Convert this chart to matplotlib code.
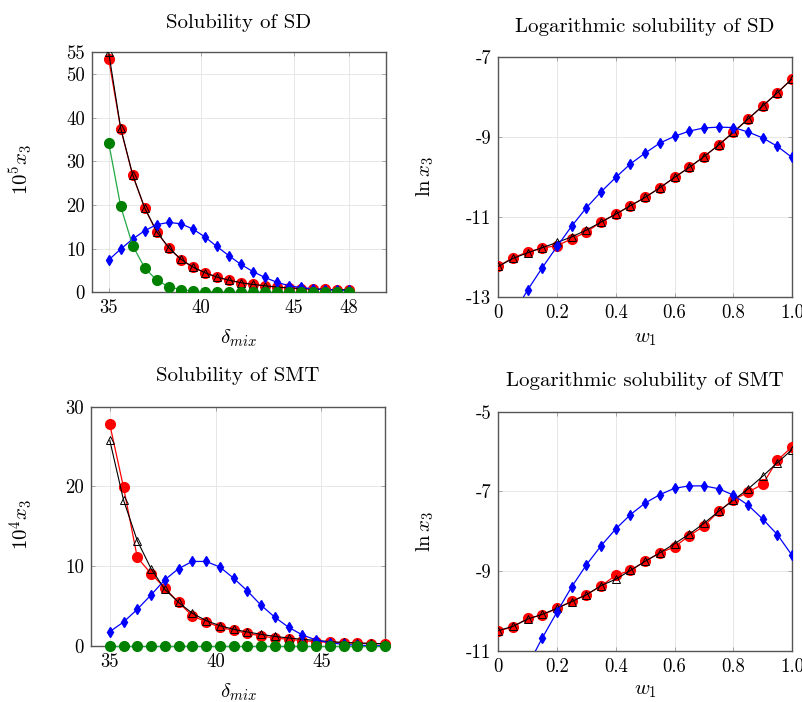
"""Solubility of SD and SMT: measured vs. model curves, four panels."""

import matplotlib

matplotlib.use("Agg")

import matplotlib.pyplot as plt
import numpy as np

plt.rcParams["font.family"] = "serif"
plt.rcParams["font.serif"] = ["cmr10"]
plt.rcParams["mathtext.fontset"] = "cm"
plt.rcParams["axes.unicode_minus"] = False
plt.rcParams["axes.formatter.use_mathtext"] = True

W, H = 803, 702

# solvent mixture parameter / mass fraction
delta_mix = [35.0, 35.65, 36.3, 36.95, 37.6, 38.25, 38.9, 39.55, 40.2, 40.85, 41.5,
             42.15, 42.8, 43.45, 44.1, 44.75, 45.4, 46.05, 46.7, 47.35, 48.0]
w1 = [0.0, 0.05, 0.1, 0.15, 0.2, 0.25, 0.3, 0.35, 0.4, 0.45, 0.5,
      0.55, 0.6, 0.65, 0.7, 0.75, 0.8, 0.85, 0.9, 0.95, 1.0]

# SD, 10^5 x3
sd_red = [53.5, 37.5, 26.8, 19.3, 13.8, 10.2, 7.5, 5.75, 4.5, 3.5, 2.76,
          2.2, 1.85, 1.5, 1.2, 1.0, 0.85, 0.75, 0.65, 0.6, 0.55]
sd_black = [55.0, 37.6, 26.9, 19.3, 13.9, 10.2, 7.6, 5.8, 4.5, 3.5, 2.8,
            2.2, 1.8, 1.5, 1.2, 1.0, 0.85, 0.75, 0.65, 0.6, 0.55]
sd_blue = [7.4, 9.9, 12.2, 14.1, 15.5, 16.0, 15.7, 14.5, 12.7, 10.5, 8.4,
           6.4, 4.75, 3.4, 2.3, 1.5, 1.1, 0.8, 0.6, 0.5, 0.45]
sd_green = [34.3, 19.7, 10.7, 5.6, 2.76, 1.3, 0.6, 0.3, 0.15, 0.08, 0.05,
            0.03, 0.02, 0.01, 0.0, 0.0, 0.0, 0.0, 0.0, 0.0, 0.0]

# SD, ln x3
lsd_red = [-12.24, -12.02, -11.88, -11.78, -11.72, -11.55, -11.38, -11.13, -10.93, -10.72, -10.51,
           -10.27, -10.01, -9.76, -9.49, -9.20, -8.88, -8.55, -8.22, -7.89, -7.54]
lsd_black = [-12.24, -12.04, -11.90, -11.77, -11.64, -11.50, -11.33, -11.13, -10.93, -10.72, -10.51,
             -10.27, -10.01, -9.76, -9.49, -9.20, -8.88, -8.55, -8.22, -7.89, -7.54]
lsd_blue = [-14.1, -13.45, -12.83, -12.27, -11.74, -11.23, -10.77, -10.37, -10.01, -9.67, -9.40,
            -9.15, -8.98, -8.85, -8.77, -8.75, -8.76, -8.87, -9.02, -9.23, -9.51]

# SMT, 10^4 x3
smt_red = [27.8, 19.9, 11.1, 9.07, 7.27, 5.47, 3.76, 3.05, 2.34, 1.96, 1.59,
           1.25, 1.0, 0.84, 0.67, 0.54, 0.46, 0.4, 0.35, 0.3, 0.28]
smt_black = [25.8, 18.3, 13.2, 9.7, 7.1, 5.47, 4.1, 3.18, 2.55, 2.09, 1.76,
             1.46, 1.2, 1.0, 0.84, 0.7, 0.55, 0.45, 0.38, 0.32, 0.28]
smt_blue = [1.8, 3.0, 4.6, 6.4, 8.3, 9.7, 10.6, 10.6, 9.9, 8.5, 6.9,
            5.1, 3.6, 2.34, 1.38, 0.75, 0.4, 0.2, 0.1, 0.05, 0.03]
smt_green = [0.05] * 21

# SMT, ln x3
lsmt_red = [-10.49, -10.40, -10.18, -10.10, -9.93, -9.75, -9.59, -9.37, -9.10, -8.98, -8.75,
            -8.54, -8.39, -8.11, -7.87, -7.50, -7.21, -7.02, -6.82, -6.22, -5.88]
lsmt_black = [-10.49, -10.38, -10.20, -10.08, -9.93, -9.76, -9.59, -9.36, -9.20, -8.98, -8.75,
              -8.54, -8.31, -8.07, -7.80, -7.50, -7.22, -6.94, -6.62, -6.28, -5.95]
lsmt_blue = [-13.0, -12.15, -11.37, -10.67, -10.02, -9.39, -8.84, -8.36, -7.94, -7.58, -7.29,
             -7.08, -6.92, -6.86, -6.86, -6.93, -7.09, -7.34, -7.69, -8.08, -8.60]

sd_yticks = [0, 10, 20, 30, 40, 50, 55]
smt_yticks = [0, 10, 20, 30]
lsd_yticks = [-13, -11, -9, -7]
lsmt_yticks = [-11, -9, -7, -5]
w_ticks = [0, 0.2, 0.4, 0.6, 0.8, 1.0]
w_ticklabels = ["0", "0.2", "0.4", "0.6", "0.8", "1.0"]

TITLE_FS = 15
LABEL_FS = 15
TICK_FS = 13.5


def axes_px(fig, left, top, right, bottom):
    return fig.add_axes([left / W, 1 - bottom / H, (right - left) / W, (bottom - top) / H])


def style(ax):
    for s in ax.spines.values():
        s.set_color("#555555")
        s.set_linewidth(1.0)
    ax.grid(True, color="#e3e3e3", linewidth=0.6)
    ax.set_axisbelow(True)
    ax.tick_params(direction="in", length=3, width=0.6, color="#999999",
                   top=True, right=True, labelsize=TICK_FS, pad=5)


def draw(ax, x, red, black, blue, green=None):
    ax.plot(x, red, color="red", lw=0.9, marker="o", ms=7, mec="red", mfc="red", zorder=3)
    ax.plot(x, black, color="black", lw=0.8, marker="^", ms=5.5, mec="black", mfc="none",
            mew=0.7, zorder=4)
    ax.plot(x, blue, color="blue", lw=0.9, marker="d", ms=5.5, mec="blue", mfc="blue", zorder=5)
    if green is not None:
        ax.plot(x, green, color="#22a844", lw=0.9, marker="o", ms=7, mec="#008000",
                mfc="#008000", zorder=6)


fig = plt.figure(figsize=(W / 100, H / 100), dpi=100)

# top left
ax = axes_px(fig, 92, 51.7, 386, 292.3)
style(ax)
draw(ax, delta_mix, sd_red, sd_black, sd_blue, sd_green)
ax.set_xlim(34.1, 50.0)
ax.set_ylim(0, 55.1)
ax.set_xticks([35, 40, 45, 48])
ax.set_xticklabels(["35", "40", "45", "48"])
ax.set_yticks(sd_yticks)
ax.set_yticklabels([str(v) for v in sd_yticks])
fig.text(239 / W, 1 - 22.5 / H, "Solubility of SD", ha="center", va="center", fontsize=TITLE_FS)
fig.text(20.7 / W, 1 - 170 / H, r"$10^5x_3$", ha="center", va="center", rotation=90, fontsize=LABEL_FS)
fig.text(238 / W, 1 - 338 / H, r"$\delta_{mix}$", ha="center", va="center", fontsize=LABEL_FS)

# top right
ax = axes_px(fig, 498.3, 57.3, 792, 296.7)
style(ax)
draw(ax, w1, lsd_red, lsd_black, lsd_blue)
ax.set_xlim(0, 1)
ax.set_ylim(-13, -7)
ax.set_xticks(w_ticks)
ax.set_xticklabels(w_ticklabels)
ax.set_yticks(lsd_yticks)
ax.set_yticklabels([str(v) for v in lsd_yticks])
fig.text(645 / W, 1 - 26.5 / H, "Logarithmic solubility of SD", ha="center", va="center", fontsize=TITLE_FS)
fig.text(425 / W, 1 - 177 / H, r"$\ln x_3$", ha="center", va="center", rotation=90, fontsize=LABEL_FS)
fig.text(645 / W, 1 - 339 / H, r"$w_1$", ha="center", va="center", fontsize=LABEL_FS)

# bottom left
ax = axes_px(fig, 90.7, 406.7, 385, 646)
style(ax)
draw(ax, delta_mix, smt_red, smt_black, smt_blue, smt_green)
ax.set_xlim(34.1, 48.0)
ax.set_ylim(0, 30)
ax.set_xticks([35, 40, 45])
ax.set_xticklabels(["35", "40", "45"])
ax.set_yticks(smt_yticks)
ax.set_yticklabels([str(v) for v in smt_yticks])
for line in ax.lines:
    line.set_clip_on(False)
fig.text(238 / W, 1 - 376 / H, "Solubility of SMT", ha="center", va="center", fontsize=TITLE_FS)
fig.text(21 / W, 1 - 525 / H, r"$10^4x_3$", ha="center", va="center", rotation=90, fontsize=LABEL_FS)
fig.text(238 / W, 1 - 692 / H, r"$\delta_{mix}$", ha="center", va="center", fontsize=LABEL_FS)

# bottom right
ax = axes_px(fig, 498.3, 411.7, 792, 651)
style(ax)
draw(ax, w1, lsmt_red, lsmt_black, lsmt_blue)
ax.set_xlim(0, 1)
ax.set_ylim(-11, -5)
ax.set_xticks(w_ticks)
ax.set_xticklabels(w_ticklabels)
ax.set_yticks(lsmt_yticks)
ax.set_yticklabels([str(v) for v in lsmt_yticks])
fig.text(645 / W, 1 - 381.5 / H, "Logarithmic solubility of SMT", ha="center", va="center", fontsize=TITLE_FS)
fig.text(425 / W, 1 - 532 / H, r"$\ln x_3$", ha="center", va="center", rotation=90, fontsize=LABEL_FS)
fig.text(645 / W, 1 - 691 / H, r"$w_1$", ha="center", va="center", fontsize=LABEL_FS)

fig.savefig("out.png", dpi=100)
